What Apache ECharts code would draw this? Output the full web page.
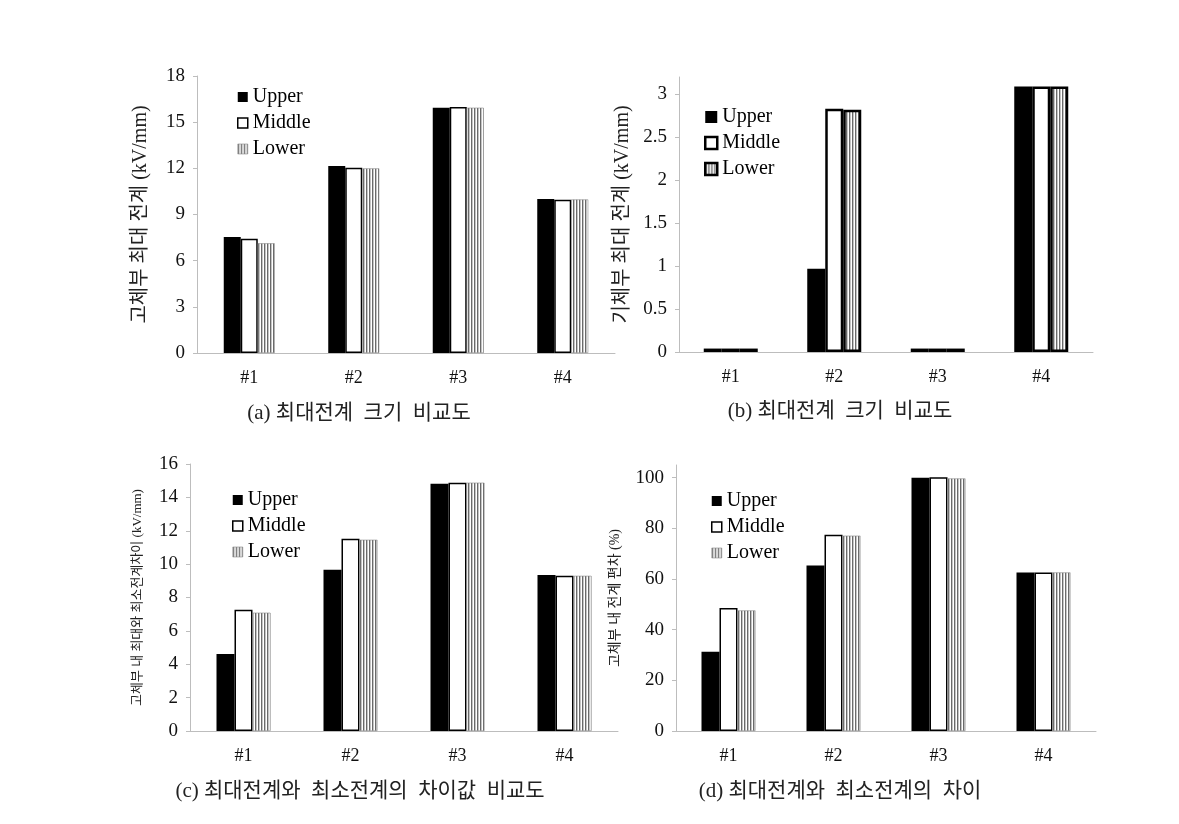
<!DOCTYPE html>
<html>
<head>
<meta charset="utf-8">
<title>최대전계 비교</title>
<script src="https://cdn.jsdelivr.net/npm/echarts@6/dist/echarts.min.js"></script>
<style>
html, body {
  margin: 0;
  padding: 0;
  background: #fff;
}
#chart {
  width: 1179px;
  height: 824px;
}
</style>
</head>
<body>
<div id="chart"></div>
<script>
// data
var categories = ['#1', '#2', '#3', '#4']
var seriesNames = ['Upper', 'Middle', 'Lower']

// (a) 고체부 최대 전계
var upperA = [7.54, 12.15, 15.94, 10.0]
var middleA = [7.43, 12.04, 15.98, 9.96]
var lowerA = [7.13, 12.0, 15.94, 9.98]
// (b) 기체부 최대 전계
var upperB = [0.04, 0.97, 0.04, 3.09]
var middleB = [0.04, 2.83, 0.04, 3.09]
var lowerB = [0.04, 2.82, 0.04, 3.09]
// (c) 최대와 최소전계 차이
var upperC = [4.62, 9.67, 14.82, 9.35]
var middleC = [7.27, 11.52, 14.88, 9.3]
var lowerC = [7.09, 11.46, 14.88, 9.3]
// (d) 전계 편차 (%)
var upperD = [31.3, 65.3, 100.0, 62.6]
var middleD = [48.6, 77.5, 100.2, 62.6]
var lowerD = [47.6, 77.1, 99.7, 62.6]

var ticksB = [0, 0.5, 1, 1.5, 2, 2.5, 3]
var ticksD = [0, 20, 40, 60, 80, 100]

var yTitles = [
  '고체부 최대 전계 (kV/mm)',
  '기체부 최대 전계 (kV/mm)',
  '고체부 내 최대와 최소전계차이 (kV/mm)',
  '고체부 내 전계 편차 (%)'
]
var captions = [
  '(a) 최대전계  크기  비교도',
  '(b) 최대전계  크기  비교도',
  '(c) 최대전계와  최소전계의  차이값  비교도',
  '(d) 최대전계와  최소전계의  차이'
]

// vertical stripe fill for "Lower"
var stripe = document.createElement('canvas')
stripe.width = 3
stripe.height = 4
var sctx = stripe.getContext('2d')
sctx.fillStyle = '#ffffff'
sctx.fillRect(0, 0, 3, 4)
sctx.fillStyle = '#6a6a6a'
sctx.fillRect(0, 0, 1, 4)
sctx.fillStyle = '#c4c4c4'
sctx.fillRect(1, 0, 1, 4)
var stripeFill = { image: stripe, repeat: 'repeat' }

var serif = 'Liberation Serif, Noto Sans CJK KR'
var axisGray = '#bdbdbd'

// styles, normal panels and panel (b) with heavier borders
var styleNormal = [
  { color: '#000' },
  { color: '#fff', borderColor: '#000', borderWidth: 1.5 },
  { color: stripeFill, borderColor: '#8a8a8a', borderWidth: 0.6 }
]
var styleHeavy = [
  { color: '#000' },
  { color: '#fff', borderColor: '#000', borderWidth: 2.5 },
  { color: stripeFill, borderColor: '#000', borderWidth: 2.5 }
]

var panels = [
  { grid: { left: 197, top: 76, width: 418, height: 277 }, data: [upperA, middleA, lowerA], y: { max: 18, interval: 3 }, style: styleNormal, barWidth: 17, legend: { left: 232, top: 82, size: 10 }, caption: { x: 354, y: 398 }, yTitle: { size: 20, gap: 46 } },
  { grid: { left: 679, top: 77, width: 414, height: 275 }, data: [upperB, middleB, lowerB], y: { max: 3.2, ticks: ticksB }, style: styleHeavy, barWidth: 18, legend: { left: 699, top: 102, size: 12 }, caption: { x: 835, y: 396 }, yTitle: { size: 20, gap: 46 } },
  { grid: { left: 190, top: 464, width: 428, height: 267 }, data: [upperC, middleC, lowerC], y: { max: 16, interval: 2 }, style: styleNormal, barWidth: 18, legend: { left: 227, top: 485, size: 10 }, caption: { x: 355, y: 776 }, yTitle: { size: 13, gap: 46 } },
  { grid: { left: 676, top: 465, width: 420, height: 266 }, data: [upperD, middleD, lowerD], y: { max: 105, ticks: ticksD }, style: styleNormal, barWidth: 18, legend: { left: 706, top: 486, size: 10 }, caption: { x: 835, y: 776 }, yTitle: { size: 14, gap: 54 } }
]

var option = {
  animation: false,
  backgroundColor: '#fff',
  title: [],
  legend: [],
  grid: [],
  xAxis: [],
  yAxis: [],
  series: []
}

panels.forEach(function (p, i) {
  option.grid.push(p.grid)

  option.xAxis.push({
    type: 'category',
    gridIndex: i,
    data: categories,
    axisLine: { show: true, lineStyle: { color: axisGray, width: 1 } },
    axisTick: { show: false },
    axisLabel: { color: '#111', fontFamily: serif, fontSize: 18, margin: 16 }
  })

  var yAxis = {
    type: 'value',
    gridIndex: i,
    min: 0,
    max: p.y.max,
    name: yTitles[i],
    nameLocation: 'middle',
    nameGap: p.yTitle.gap,
    nameRotate: 90,
    nameTextStyle: { color: '#222', fontFamily: serif, fontSize: p.yTitle.size },
    splitLine: { show: false },
    axisLine: { show: true, lineStyle: { color: axisGray, width: 1 } },
    axisTick: { show: true, inside: false, length: 4, lineStyle: { color: axisGray } },
    axisLabel: { color: '#111', fontFamily: serif, fontSize: 19, margin: 12 }
  }
  if (p.y.interval) {
    yAxis.interval = p.y.interval
  } else {
    // axis runs a little past the last label
    yAxis.axisTick.customValues = p.y.ticks
    yAxis.axisLabel.customValues = p.y.ticks
  }
  option.yAxis.push(yAxis)

  option.legend.push({
    orient: 'vertical',
    left: p.legend.left,
    top: p.legend.top,
    itemWidth: p.legend.size,
    itemHeight: p.legend.size,
    itemGap: 6,
    icon: 'rect',
    textStyle: { color: '#000', fontFamily: serif, fontSize: 20 },
    data: seriesNames.map(function (n, k) {
      return { name: n, itemStyle: p.style[k] }
    })
  })

  option.title.push({
    text: captions[i],
    left: p.caption.x,
    top: p.caption.y,
    textAlign: 'center',
    textStyle: { color: '#222', fontFamily: serif, fontSize: 21, fontWeight: 'normal' }
  })

  seriesNames.forEach(function (n, k) {
    option.series.push({
      name: n,
      type: 'bar',
      xAxisIndex: i,
      yAxisIndex: i,
      barWidth: p.barWidth,
      barGap: '0%',
      itemStyle: p.style[k],
      data: p.data[k]
    })
  })
})

var chart = echarts.init(document.getElementById('chart'))
chart.setOption(option)
window.addEventListener('resize', function () {
  chart.resize()
})
</script>
</body>
</html>
